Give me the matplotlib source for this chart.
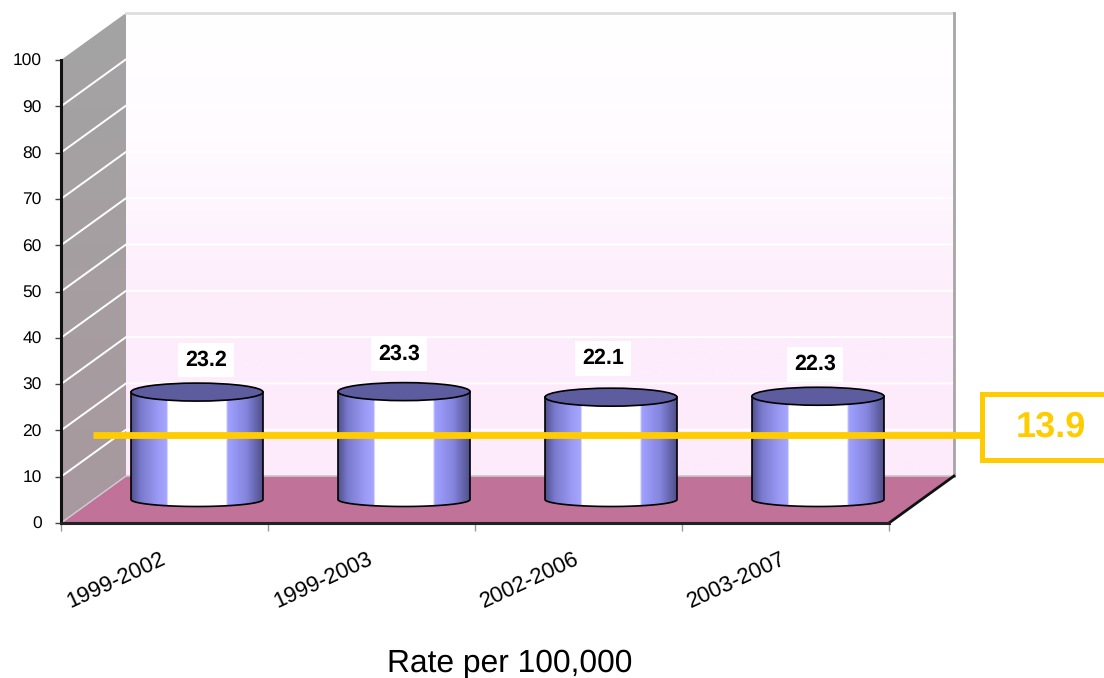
import numpy as np
import matplotlib
matplotlib.use("Agg")
import matplotlib.pyplot as plt
from matplotlib.colors import LinearSegmentedColormap
from matplotlib.patches import Ellipse, Polygon, Rectangle

plt.rcParams['font.family'] = ['Liberation Sans', 'DejaVu Sans']
plt.rcParams['text.hinting'] = 'no_hinting'

# ---- data ----
periods = ["1999-2002", "1999-2003", "2002-2006", "2003-2007"]
rates = [23.2, 23.3, 22.1, 22.3]
reference_rate = 13.9
y_ticks = [0, 10, 20, 30, 40, 50, 60, 70, 80, 90, 100]
x_label = "Rate per 100,000"

# ---- layout (pixels) ----
W, H = 1104, 678
X0, X1 = 61, 889
Y0, Y100 = 523, 60
PX_X = (X1 - X0) / len(periods)
PX_Y = (Y0 - Y100) / 100
DX = 65 / PX_X
DY = 47 / PX_Y

fig = plt.figure(figsize=(W / 100, H / 100), dpi=100, facecolor="white")
ax = fig.add_axes([0, 0, 1, 1])
xlim = (-X0 / PX_X, (W - X0) / PX_X)
ylim = (-(H - Y0) / PX_Y, Y0 / PX_Y)


def hx(px):
    return (px - X0) / PX_X


def d3(x, y, d):
    return (x + d * DX, y + d * DY)


n = len(periods)

# back wall with vertical gradient
wall_cmap = LinearSegmentedColormap.from_list("wall", [
    (0.0, "#fdeafb"), (0.4, "#fdeefc"), (0.72, "#fffbff"), (1.0, "#ffffff")])
bl, br = d3(0, 0, 1), d3(n, 0, 1)
tr = d3(n, 100, 1)
ax.imshow(np.linspace(0, 1, 256)[:, None], origin="lower", aspect="auto", cmap=wall_cmap,
          extent=(bl[0], br[0], bl[1], tr[1]), zorder=1)

# side wall
side_cmap = LinearSegmentedColormap.from_list("side", ["#a8999f", "#a4a4a4"])
side = Polygon([d3(0, 0, 0), d3(0, 100, 0), d3(0, 100, 1), d3(0, 0, 1)], closed=True,
               transform=ax.transData, fc="none", ec="none")
ax.add_patch(side)
im = ax.imshow(np.linspace(0, 1, 256)[:, None], origin="lower", aspect="auto", cmap=side_cmap,
               extent=(0, DX, 0, 100 + DY), zorder=1)
im.set_clip_path(side)

# floor
ax.add_patch(Polygon([d3(0, 0, 0), d3(n, 0, 0), d3(n, 0, 1), d3(0, 0, 1)], closed=True,
                     fc="#c07298", ec="none", zorder=1.2))

# gridlines
for v in y_ticks[1:-1]:
    pts = [d3(0, v, 0), d3(0, v, 1), d3(n, v, 1)]
    ax.plot(*zip(*pts), color="white", lw=1.4, zorder=1.5)
ax.plot(*zip(d3(0, 0, 0), d3(0, 0, 1)), color="#d0d0d0", lw=1, zorder=1.5)
ax.plot(*zip(d3(0, 0, 1), d3(n, 0, 1)), color="#c8c8c8", lw=1.2, zorder=1.5)
ax.plot(*zip(d3(0, 100, 1), d3(n, 100, 1)), color="#dedede", lw=2, zorder=1.5)
ax.plot(*zip(d3(n, 0, 1), d3(n, 100, 1)), color="#a6a6a6", lw=2, zorder=1.5)
ax.plot(*zip(d3(n, 0, 0), d3(n, 0, 1)), color="#111111", lw=2, zorder=1.6)

# cylinders
cyl_cmap = LinearSegmentedColormap.from_list("cyl", [
    (0.00, "#50508c"), (0.07, "#7878cc"), (0.20, "#9a9af4"), (0.27, "#a6a6ff"), (0.28, "#ffffff"),
    (0.72, "#ffffff"), (0.735, "#a0a0ff"), (0.87, "#8686e0"), (1.00, "#50508c")])
half_w = 66 / PX_X
half_h = 9 / PX_Y
half_b = 7 / PX_Y
for i, v in enumerate(rates):
    cx, base = d3(i + 0.5, 0, 0.5)
    top = base + v
    t = np.linspace(0, np.pi, 60)
    xs = np.r_[cx - half_w, cx + half_w, cx + half_w * np.cos(t)]
    ys = np.r_[top, top, base - half_b * np.sin(t)]
    body = Polygon(np.c_[xs, ys], closed=True, fc="none", ec="black", lw=1.2, zorder=3.1)
    ax.add_patch(body)
    g = ax.imshow(np.linspace(0, 1, 256)[None, :], aspect="auto", cmap=cyl_cmap,
                  extent=(cx - half_w, cx + half_w, base - half_b, top), zorder=3)
    g.set_clip_path(body)
    ax.add_patch(Ellipse((cx, top), 2 * half_w, 2 * half_h, fc="#5c5c9e", ec="black",
                         lw=1.2, zorder=3.2))

# data labels
label_offsets = [(9, 32), (-5, 38), (-8, 39), (-3, 32)]
for i, v in enumerate(rates):
    cx, base = d3(i + 0.5, 0, 0.5)
    ax.annotate(f"{v:.1f}", xy=(cx, base + v),
                xytext=(label_offsets[i][0] * .72, label_offsets[i][1] * .72),
                textcoords="offset points", ha="center", va="center", fontsize=15.5,
                fontweight="bold", color="black", zorder=5,
                bbox=dict(boxstyle="square,pad=0.33", fc="white", ec="none"))

# reference line and its box
start = d3(0, reference_rate, 0.5)
box_left = hx(980)
ax.plot([start[0], box_left], [start[1], start[1]], color="#ffcc00", lw=4.9,
        solid_capstyle="butt", zorder=4)
box_bottom = (Y0 - 460) / PX_Y
box_h = 66 / PX_Y
ax.add_patch(Rectangle((box_left + 2.5 / PX_X, box_bottom), hx(1130) - box_left, box_h, fc="white",
                       ec="#ffcc00", lw=3.6, zorder=4.2))
ax.text(hx(1050.5), box_bottom + box_h / 2, f"{reference_rate}", color="#ffcc00", fontsize=26,
        fontweight="bold", ha="center", va="center", zorder=5)

# axes, ticks
for s in ("top", "right"):
    ax.spines[s].set_visible(False)
ax.spines["left"].set_position(("data", 0))
ax.spines["left"].set_bounds(0, 100)
ax.spines["left"].set_linewidth(2.2)
ax.spines["left"].set_color("#111111")
ax.spines["left"].set_zorder(6)
ax.spines["bottom"].set_position(("data", 0))
ax.spines["bottom"].set_bounds(0, n)
ax.spines["bottom"].set_linewidth(2.2)
ax.spines["bottom"].set_color("#222222")
ax.spines["bottom"].set_zorder(6)
ax.set_yticks(y_ticks)
ax.set_yticklabels([str(v) for v in y_ticks], fontsize=12.5, color="black")
ax.tick_params(axis="y", length=4, width=1, color="#444444", pad=10)
ax.set_xticks(range(n + 1))
ax.set_xticklabels([""] * (n + 1))
ax.tick_params(axis="x", length=6, width=1, color="#999999")

for i, lab in enumerate(periods):
    ax.annotate(lab, xy=(i + 0.5, 0), xytext=(-48.5 * .72, -57 * .72), textcoords="offset points",
                rotation=25, ha="center", va="center", fontsize=16, color="black",
                rotation_mode="anchor")

fig.text(510 / W, 1 - 663 / H, x_label, fontsize=22.9, ha="center", va="center", color="black")

ax.set_xlim(*xlim)
ax.set_ylim(*ylim)
ax.set_aspect("auto")
fig.savefig("out.png", dpi=100, facecolor="white")
